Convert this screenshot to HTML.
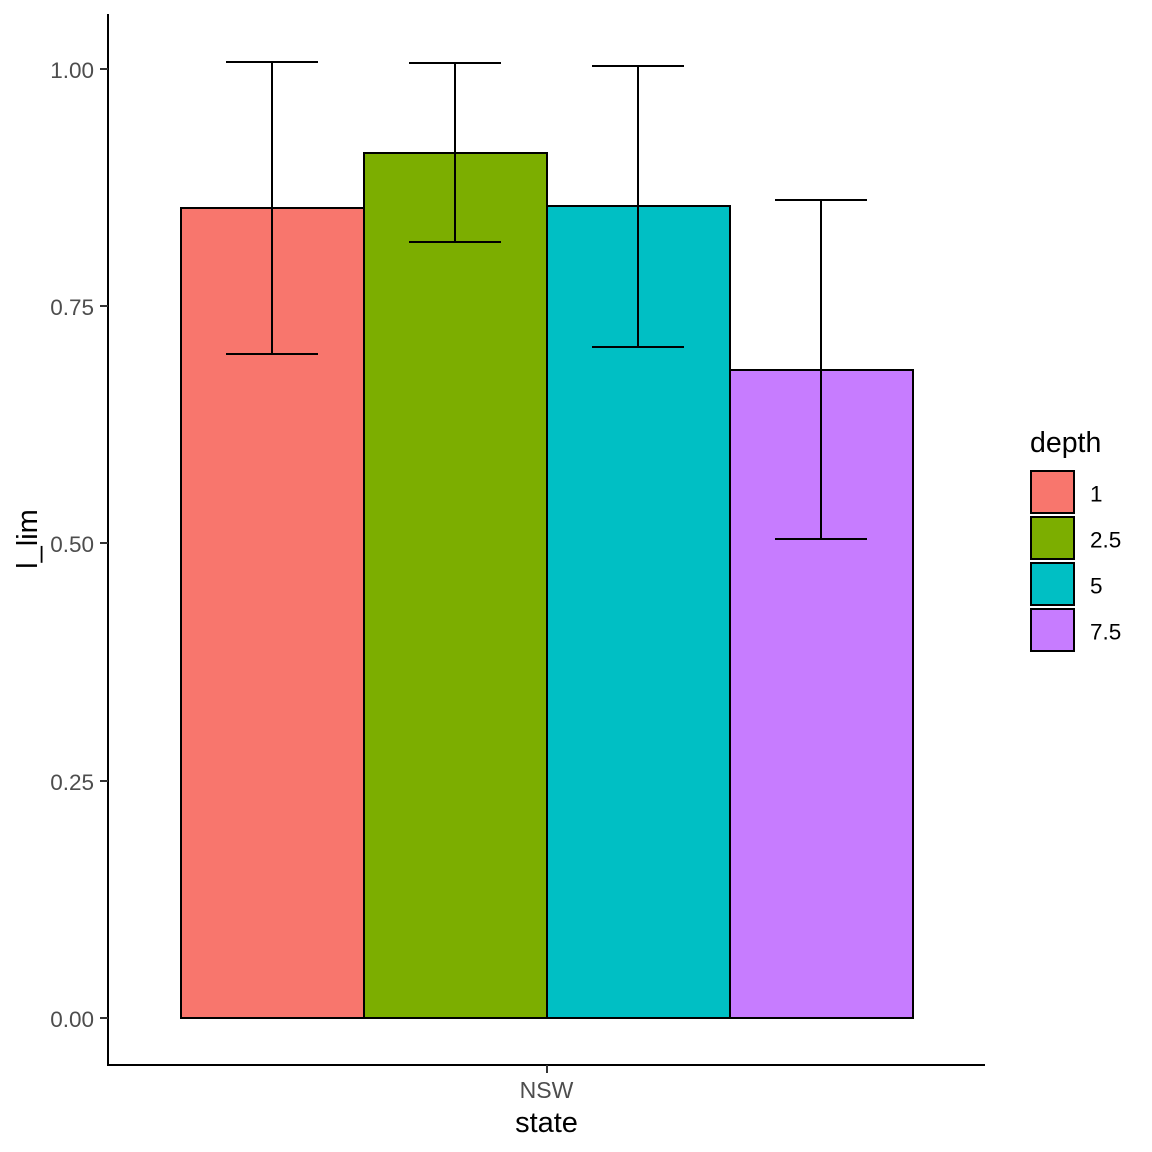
<!DOCTYPE html>
<html>
<head>
<meta charset="utf-8">
<style>
html,body{margin:0;padding:0;background:#fff;}
svg{display:block;}
text{font-family:"Liberation Sans",Arial,sans-serif;}
</style>
</head>
<body>
<svg id="chart" xmlns="http://www.w3.org/2000/svg" width="1152" height="1152" viewBox="0 0 1152 1152">
<rect x="0" y="0" width="1152" height="1152" fill="#ffffff"/>
<g id="bars"></g>
<g id="errors"></g>
<g id="axes"></g>
<text x="546.5" y="1132" font-size="29" text-anchor="middle" fill="#000">state</text>
<text transform="translate(37,539) rotate(-90)" font-size="29" text-anchor="middle" fill="#000">l_lim</text>
<text x="1030" y="452" font-size="28.5" fill="#000">depth</text>
<g id="legend"></g>
</svg>
<script>
const categories = ["1", "2.5", "5", "7.5"];
const barValues = [0.8535, 0.9115, 0.8556, 0.6828];
const errorUpper = [1.0074, 1.0063, 1.0032, 0.8620];
const errorLower = [0.6997, 0.8177, 0.7071, 0.5047];
const fillColors = ["#F8766D", "#7CAE00", "#00BFC4", "#C77CFF"];
const yTickValues = [0, 0.25, 0.5, 0.75, 1];
const yTickLabels = ["0.00", "0.25", "0.50", "0.75", "1.00"];
const xTickLabels = ["NSW"];

const NS = "http://www.w3.org/2000/svg";
const plotLeft = 108, plotRight = 985, plotTop = 14, plotBottom = 1065;
const groupLeft = 181, groupRight = 913;
function yScale(v) { return Math.round(1018 - v * 949.2); }
function bandWidth() { return (groupRight - groupLeft) / categories.length; }
function xLeft(i) { return groupLeft + i * bandWidth(); }
function xCenter(i) { return Math.floor(xLeft(i) + bandWidth() / 2); }
function make(tag, attrs, parent) {
  const el = document.createElementNS(NS, tag);
  for (const k in attrs) el.setAttribute(k, attrs[k]);
  parent.appendChild(el);
  return el;
}
const barsG = document.getElementById("bars");
const errG = document.getElementById("errors");
const axesG = document.getElementById("axes");
const legG = document.getElementById("legend");

categories.forEach(function (c, i) {
  const top = yScale(barValues[i]);
  const bar = make("rect", {x: xLeft(i), y: top, width: bandWidth(), height: yScale(0) - top, fill: fillColors[i], stroke: "#000", "stroke-width": 2, "stroke-linejoin": "miter"}, barsG);
  
  

  const cx = xCenter(i), half = Math.ceil(bandWidth() / 4);
  const yu = yScale(errorUpper[i]), yl = yScale(errorLower[i]);
  const stem = make("line", {x1: cx, x2: cx, y1: yu, y2: yl, stroke: "#000", "stroke-width": 2}, errG);
  
  
  const capTop = make("line", {x1: cx - half, x2: cx + half, y1: yu, y2: yu, stroke: "#000", "stroke-width": 2}, errG);
  
  
  const capBottom = make("line", {x1: cx - half, x2: cx + half, y1: yl, y2: yl, stroke: "#000", "stroke-width": 2}, errG);
  
  

  const ly = 471 + i * 46;
  const key = make("rect", {x: 1031, y: ly, width: 43, height: 42, fill: fillColors[i], stroke: "#000", "stroke-width": 2}, legG);
  
  
  const lab = make("text", {x: 1090, y: ly + 30.5, "font-size": 22.5, fill: "#000"}, legG);
  
  
  lab.textContent = c;
});

const yAxisLine = make("line", {x1: plotLeft, x2: plotLeft, y1: plotTop, y2: plotBottom + 1, stroke: "#000", "stroke-width": 2}, axesG);


const xAxisLine = make("line", {x1: plotLeft - 1, x2: plotRight, y1: plotBottom, y2: plotBottom, stroke: "#000", "stroke-width": 2}, axesG);



yTickValues.forEach(function (v, i) {
  const y = yScale(v);
  const t = make("line", {x1: plotLeft - 8, x2: plotLeft, y1: y, y2: y, stroke: "#333", "stroke-width": 2}, axesG);
  
  
  const l = make("text", {x: 94, y: y + 9, "font-size": 22.5, "text-anchor": "end", fill: "#4d4d4d"}, axesG);
  
  
  l.textContent = yTickLabels[i];
});

xTickLabels.forEach(function (s) {
  const cx = (groupLeft + groupRight) / 2;
  const t = make("line", {x1: cx, x2: cx, y1: plotBottom, y2: plotBottom + 8, stroke: "#333", "stroke-width": 2}, axesG);
  
  
  const l = make("text", {x: cx - 0.5, y: 1098, "font-size": 23, "text-anchor": "middle", fill: "#4d4d4d"}, axesG);
  
  
  l.textContent = s;
});
</script>
</body>
</html>
